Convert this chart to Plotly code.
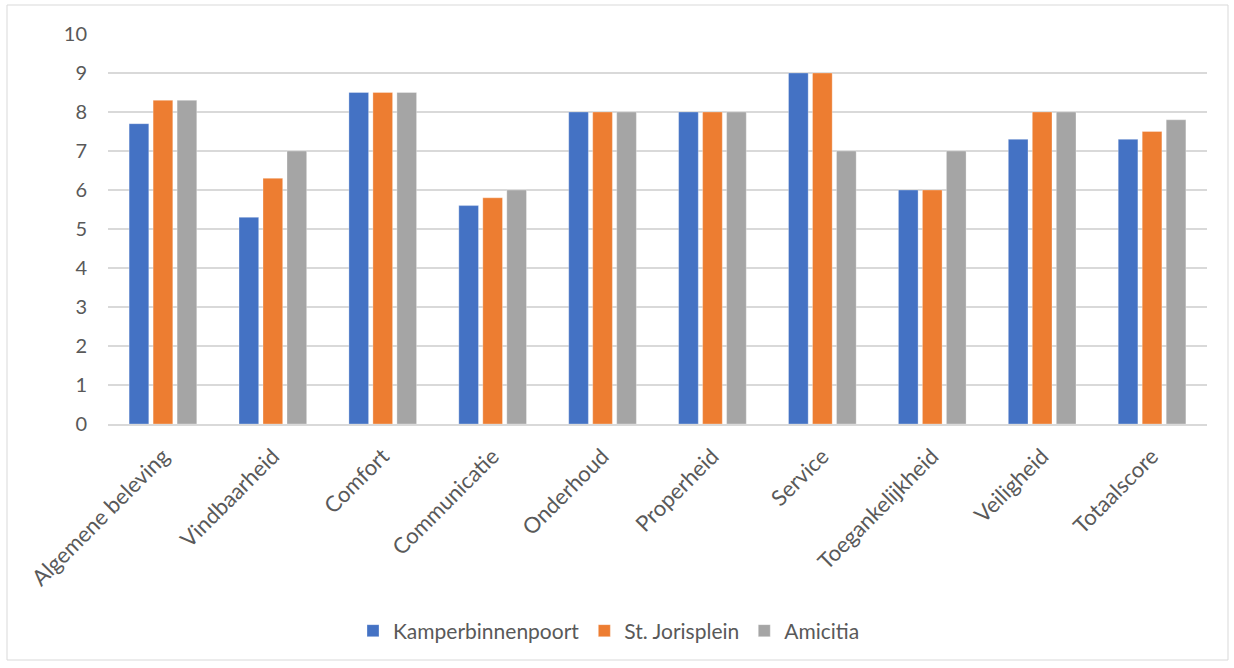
import plotly.graph_objects as go

categories = ["Algemene beleving", "Vindbaarheid", "Comfort", "Communicatie", "Onderhoud",
              "Properheid", "Service", "Toegankelijkheid", "Veiligheid", "Totaalscore"]
kamperbinnenpoort = [7.7, 5.3, 8.5, 5.6, 8.0, 8.0, 9.0, 6.0, 7.3, 7.3]
st_jorisplein = [8.3, 6.3, 8.5, 5.8, 8.0, 8.0, 9.0, 6.0, 8.0, 7.5]
amicitia = [8.3, 7.0, 8.5, 6.0, 8.0, 8.0, 7.0, 7.0, 8.0, 7.8]

series = [
    ("Kamperbinnenpoort", kamperbinnenpoort, "#4472C4"),
    ("St. Jorisplein", st_jorisplein, "#ED7D31"),
    ("Amicitia", amicitia, "#A5A5A5"),
]

W, H = 1234, 668
ML, MR, MT, MB = 108, 27, 34, 244
FONT = "Lato"
TXT = "#595959"

fig = go.Figure()
for name, vals, color in series:
    fig.add_trace(go.Bar(
        x=categories, y=vals, name=name,
        marker=dict(color=color, line=dict(color="rgba(255,255,255,0.6)", width=0.5)),
    ))

# outer chart border
pw, ph = W - ML - MR, H - MT - MB
def px(x):
    return (x - ML) / pw
def py(y):
    return (H - MB - y) / ph

fig.add_shape(type="rect", xref="paper", yref="paper",
              x0=px(7), x1=px(1228), y0=py(660), y1=py(5),
              line=dict(color="#D9D9D9", width=1), fillcolor="rgba(0,0,0,0)", layer="below")

fig.update_layout(
    width=W, height=H,
    margin=dict(l=ML, r=MR, t=MT, b=MB),
    paper_bgcolor="white", plot_bgcolor="white",
    barmode="group", bargap=0.345, bargroupgap=0.18,
    font=dict(family=FONT, size=20, color=TXT),
    legend=dict(orientation="h", x=px(609), xanchor="center", y=py(631), yanchor="middle",
                font=dict(family=FONT, size=21, color=TXT), itemwidth=30,
                traceorder="normal"),
    showlegend=True,
)
fig.update_xaxes(
    tickangle=-45, showgrid=False, showline=True, linecolor="#D9D9D9", linewidth=1.5,
    ticks="", tickfont=dict(family=FONT, size=22, color=TXT), ticklabelstandoff=9,
    fixedrange=True,
)
fig.update_yaxes(
    range=[0, 10], dtick=1, showgrid=True, gridcolor="#D9D9D9", gridwidth=1.5,
    zeroline=False, showline=False, ticks="", ticklabelstandoff=20,
    tickfont=dict(family=FONT, size=20, color=TXT), fixedrange=True,
)

fig.write_html("out.html", config={"displayModeBar": False})
